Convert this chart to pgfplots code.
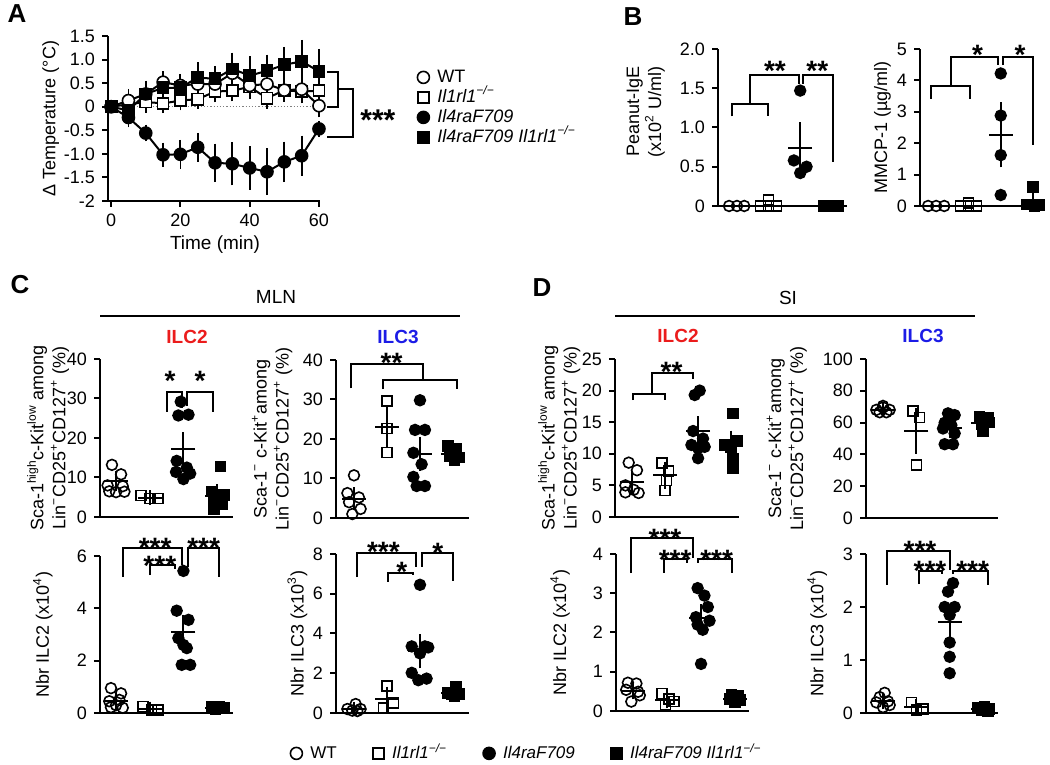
\documentclass[border=0pt]{standalone}
\usepackage{pgfplots}
\pgfplotsset{compat=1.18}
\usepackage{fontspec}
\setmainfont{Liberation Sans}
\definecolor{ilcred}{RGB}{235,28,28}
\definecolor{ilcblue}{RGB}{28,28,230}
\newcommand{\fs}[1]{\fontsize{#1}{#1}\selectfont}
\newcommand{\st}[1]{\raisebox{-0.42em}[0.3em][0pt]{#1}}
\pgfplotsset{
  gp/.style={
    scale only axis,
    axis x line*=bottom, axis y line*=left,
    axis line style={line width=1pt, black, -},
    tick style={line width=1pt, black},
    tick align=outside, major tick length=3pt,
    tick label style={font=\fs{9}},
    /pgf/number format/assume math mode=true,
    clip=false,
  },
  ylab/.style={every axis y label/.style={at={(axis description cs:#1,0.5)}, rotate=90, anchor=center, font=\fontsize{9}{11}\selectfont, align=center}},
  ylabxy/.style 2 args={every axis y label/.style={at={(axis description cs:#1,#2)}, rotate=90, anchor=center, font=\fontsize{9}{11}\selectfont, align=center}},
  cat/.style={gp, xtick=\empty, ymin=0},
  wt/.style={only marks, mark=o, mark size=2.7pt, line width=0.8pt, black},
  ko/.style={only marks, mark=square, mark size=2.5pt, line width=0.8pt, black},
  fz/.style={only marks, mark=*, mark size=2.7pt, line width=0.8pt, black},
  dk/.style={only marks, mark=square*, mark size=2.5pt, line width=0.8pt, black},
  ms/.style={only marks, black, mark=-, mark size=6pt, mark options={line width=1pt},
    error bars/y dir=both, error bars/y explicit, error bars/error mark=-,
    error bars/error mark options={black, mark size=3pt, line width=1pt},
    error bars/error bar style={black, line width=1pt}},
  aser/.style={black, line width=1pt, mark size=3pt,
    error bars/y dir=both, error bars/y explicit, error bars/error mark=-,
    error bars/error mark options={black, mark size=3pt, line width=0.9pt},
    error bars/error bar style={black, line width=0.9pt}},
}
\tikzset{
  brk/.style={line width=1pt, black},
  star/.style={font=\bfseries\fs{14}, inner sep=0pt, anchor=center},
  plab/.style={font=\bfseries\fs{13}},
}
\begin{document}
\begin{tikzpicture}
\useasboundingbox (0,0) rectangle (525pt,382.5pt);

% ---------------- Panel A ----------------
\begin{axis}[gp, at={(54pt,282pt)}, anchor=south west, width=106pt, height=82.5pt,
  xmin=-0.9, xmax=60.3, ymin=-2, ymax=1.5,
  xtick={0,20,40,60}, xticklabels={0,20,40,60},
  ytick={-2,-1.5,-1,-0.5,0,0.5,1,1.5},
  yticklabels={-2,-1.5,-1.0,-0.5,0,0.5,1.0,1.5},
  ylab=-0.27, ylabel={Δ Temperature (°C)},
  every axis x label/.style={at={(axis description cs:0.505,-0.267)}, anchor=center, font=\fs{9.5}},
  xlabel={Time (min)}]
\addplot[densely dotted, gray, line width=0.6pt] coordinates {(0,0) (60,0)};
\addplot[aser, mark=square*, mark options={solid, line width=0.8pt, fill=white}, mark size=2.8pt] table[y error=e] {
x y e
0 0 0
5 0.05 0.1
10 0.1 0.1
15 0.07 0.08
20 0.13 0.08
25 0.16 0.08
30 0.32 0.1
35 0.34 0.1
40 0.42 0.12
45 0.18 0.1
50 0.35 0.1
55 0.32 0.12
60 0.34 0.15
};
\addplot[aser, mark=*, mark options={solid, line width=0.8pt, fill=white}] table[y error=e] {
x y e
0 0 0
5 0.13 0.12
10 0.27 0.15
15 0.52 0.1
20 0.45 0.12
25 0.48 0.12
30 0.48 0.12
35 0.71 0.13
40 0.45 0.12
45 0.48 0.12
50 0.35 0.12
55 0.37 0.12
60 0.02 0.12
};
\addplot[aser, mark=square*, mark options={solid, line width=0.8pt, fill=black}, mark size=2.8pt] table[y error=e] {
x y e
0 0 0
5 -0.08 0.12
10 0.27 0.15
15 0.4 0.12
20 0.4 0.12
25 0.62 0.2
30 0.59 0.15
35 0.8 0.22
40 0.66 0.28
45 0.76 0.22
50 0.89 0.25
55 0.96 0.33
60 0.75 0.35
};
\addplot[aser, mark=*, mark options={solid, line width=0.8pt, fill=black}] table[y error=e] {
x y e
0 0 0
5 -0.23 0.08
10 -0.56 0.05
15 -1.02 0.13
20 -1.01 0.18
25 -0.86 0.18
30 -1.19 0.28
35 -1.21 0.33
40 -1.30 0.33
45 -1.38 0.37
50 -1.17 0.3
55 -1.04 0.3
60 -0.47 0.04
};
\draw[brk] (axis cs:62.3,0.74) -- (axis cs:65.5,0.74) -- (axis cs:65.5,0) -- (axis cs:62.3,0);
\draw[brk] (axis cs:65.5,0.37) -- (axis cs:69.8,0.37) -- (axis cs:69.8,-0.64) -- (axis cs:62.3,-0.64);
\node[star, font=\bfseries\fs{15}] at (axis cs:77,-0.15) {\st{***}};
\end{axis}

% legend A
\begin{axis}[hide axis, scale only axis, width=1pt, height=1pt, at={(208.5pt,348.5pt)}, anchor=north west,
  xmin=0, xmax=1, ymin=0, ymax=1, legend cell align=left,
  legend style={at={(0,1)}, anchor=north west, draw=none, fill=none, inner sep=0pt, font=\fs{9},
    nodes={inner sep=0pt, text height=7pt, text depth=2pt}, row sep=1pt,
    /tikz/every odd column/.append style={column sep=4pt}},
  legend image code/.code={\draw[#1] plot coordinates {(0pt,0pt)};}]
\addlegendimage{wt, mark size=3pt}\addlegendentry{WT}
\addlegendimage{ko, mark size=2.8pt}\addlegendentry{\textit{Il1rl1\textsuperscript{−/−}}}
\addlegendimage{fz, mark size=3pt}\addlegendentry{\textit{Il4raF709}}
\addlegendimage{dk, mark size=2.8pt}\addlegendentry{\textit{Il4raF709 Il1rl1\textsuperscript{−/−}}}
\end{axis}

% ---------------- Panel B1 ----------------
\begin{axis}[cat, at={(359pt,279.5pt)}, anchor=south west, width=64.5pt, height=78.5pt,
  xmin=0.4, xmax=4.48, ymax=2, ytick={0,0.5,1,1.5,2}, yticklabels={0,0.5,1.0,1.5,2.0},
  ylabxy={-0.56}{0.6}, ylabel={Peanut-IgE\\(x10\textsuperscript{2} U/ml)}]
\addplot[wt] coordinates {(0.75,0) (1,0) (1.23,0)};
\addplot[ko] coordinates {(1.75,0) (2,0.08) (2,0) (2.25,0)};
\addplot[fz] coordinates {(3,1.47) (2.8,0.58) (3.2,0.5) (3,0.42)};
\addplot[dk] coordinates {(3.75,0) (3.9,0) (4.05,0) (4.2,0)};
\addplot[ms] coordinates {(3,0.74) +- (0,0.25)};
\draw[brk] (axis cs:0.83,1.14) -- (axis cs:0.83,1.30) -- (axis cs:1.99,1.30) -- (axis cs:1.99,1.14);
\draw[brk] (axis cs:1.41,1.30) -- (axis cs:1.41,1.67) -- (axis cs:2.96,1.67) -- (axis cs:2.96,1.56);
\draw[brk] (axis cs:3.1,1.56) -- (axis cs:3.1,1.67) -- (axis cs:4.03,1.67) -- (axis cs:4.03,0.56);
\node[star] at (axis cs:2.2,1.8) {\st{**}};
\node[star] at (axis cs:3.54,1.8) {\st{**}};
\end{axis}

% ---------------- Panel B2 ----------------
\begin{axis}[cat, at={(460pt,279.5pt)}, anchor=south west, width=62.5pt, height=78.5pt,
  xmin=0.5, xmax=4.37, ymax=5, ytick={0,1,2,3,4,5},
  ylab=-0.3, ylabel={MMCP-1 (µg/ml)}]
\addplot[wt] coordinates {(0.75,0) (1,0) (1.25,0)};
\addplot[ko] coordinates {(1.75,0) (2,0.1) (2,0) (2.25,0)};
\addplot[fz] coordinates {(3,4.22) (3,2.88) (3,1.62) (3,0.35)};
\addplot[dk] coordinates {(4,0.6) (3.8,0.05) (4.2,0.02) (4.05,0)};
\addplot[ms] coordinates {(3,2.27) +- (0,0.85) (4,0.19) +- (0,0.19)};
\draw[brk] (axis cs:0.85,3.41) -- (axis cs:0.85,3.82) -- (axis cs:2.05,3.82) -- (axis cs:2.05,3.41);
\draw[brk] (axis cs:1.45,3.82) -- (axis cs:1.45,4.75) -- (axis cs:2.93,4.75) -- (axis cs:2.93,4.49);
\draw[brk] (axis cs:3.08,4.49) -- (axis cs:3.08,4.75) -- (axis cs:4.01,4.75) -- (axis cs:4.01,1.94);
\node[star] at (axis cs:2.28,5.0) {\st{*}};
\node[star] at (axis cs:3.6,5.0) {\st{*}};
\end{axis}

% ---------------- Panel C1 ----------------
\begin{axis}[cat, at={(50pt,124pt)}, anchor=south west, width=66.5pt, height=79pt,
  xmin=0.525, xmax=4.47, ymax=40, ytick={0,10,20,30,40},
  ylab=-0.39, ylabel={Sca-1\textsuperscript{high}c-Kit\textsuperscript{low} among\\Lin\textsuperscript{−}CD25\textsuperscript{+}CD127\textsuperscript{+} (\%)}]
\addplot[wt] coordinates {(0.88,13.2) (1.15,10.8) (0.75,8.0) (1.2,7.8) (0.8,6.5) (1.0,6.3) (1.25,6.4)};
\addplot[ko] coordinates {(1.75,5.4) (2,4.7) (2.25,4.7)};
\addplot[fz] coordinates {(2.92,29.2) (2.85,25.7) (3.15,25.9) (2.8,14.2) (3.1,12.5) (2.78,11.4) (3.2,11.0) (3.0,9.6)};
\addplot[dk] coordinates {(4.1,12.8) (3.85,6.5) (4.2,5.5) (3.9,4.8) (4.15,3.3) (3.9,2.0)};
\addplot[ms] coordinates {(1,9.2) +- (0,1.0) (2,4.9) +- (0,0.3) (3,17.1) +- (0,2.8) (4,5.2) +- (0,1.6)};
\draw[brk] (axis cs:2.5,26.7) -- (axis cs:2.5,31.7) -- (axis cs:2.95,31.7) -- (axis cs:2.95,27.5);
\draw[brk] (axis cs:3.1,28.2) -- (axis cs:3.1,31.7) -- (axis cs:3.89,31.7) -- (axis cs:3.89,26.7);
\node[star] at (axis cs:2.6,36.0) {\st{*}};
\node[star] at (axis cs:3.49,36.0) {\st{*}};
\end{axis}

% ---------------- Panel C2 ----------------
\begin{axis}[cat, at={(168pt,123.5pt)}, anchor=south west, width=66.5pt, height=79pt,
  xmin=0.455, xmax=4.485, ymax=40, ytick={0,10,20,30,40},
  ylab=-0.48, ylabel={Sca-1\textsuperscript{−} c-Kit\textsuperscript{+}among\\Lin\textsuperscript{−}CD25\textsuperscript{+}CD127\textsuperscript{+} (\%)}]
\addplot[wt] coordinates {(1.0,10.8) (0.8,6.3) (1.15,5.2) (0.85,4.0) (1.2,2.3) (0.95,1.0)};
\addplot[ko] coordinates {(2,29.6) (2,22.7) (2,16.6)};
\addplot[fz] coordinates {(3.0,29.8) (2.85,22.3) (3.15,22.3) (2.8,16.5) (3.05,13.6) (2.8,10.4) (2.9,8.1) (3.15,8.1)};
\addplot[dk] coordinates {(3.85,18.2) (4.1,17.6) (3.9,15.6) (4.2,15.3) (4.05,14.6)};
\addplot[ms] coordinates {(1,4.9) +- (0,1.4) (2,23.0) +- (0,3.8) (3,16.3) +- (0,2.8) (4,16.2) +- (0,0.9)};
\draw[brk] (axis cs:0.9,32.8) -- (axis cs:0.9,39.0) -- (axis cs:3.1,39.0) -- (axis cs:3.1,34.9);
\draw[brk] (axis cs:1.89,32.6) -- (axis cs:1.89,34.9) -- (axis cs:4.11,34.9) -- (axis cs:4.11,32.6);
\node[star] at (axis cs:2.14,40.9) {\st{**}};
\end{axis}

% ---------------- Panel C3 ----------------
\begin{axis}[cat, at={(50pt,26pt)}, anchor=south west, width=66.5pt, height=78.5pt,
  xmin=0.525, xmax=4.47, ymax=6, ytick={0,2,4,6},
  ylab=-0.43, ylabel={Nbr ILC2 (x10\textsuperscript{4})}]
\addplot[wt] coordinates {(0.85,0.95) (1.15,0.75) (0.8,0.45) (1.1,0.5) (0.85,0.22) (1.2,0.2) (1.0,0.3)};
\addplot[ko] coordinates {(1.8,0.25) (2.05,0.12) (2.25,0.12)};
\addplot[fz] coordinates {(3.0,5.43) (2.8,3.91) (3.15,3.56) (2.85,2.86) (3.0,2.6) (3.1,2.48) (2.95,1.84) (3.2,1.84)};
\addplot[dk] coordinates {(3.85,0.22) (4.1,0.2) (4.2,0.18) (3.95,0.15) (4.05,0.22)};
\addplot[ms] coordinates {(1,0.44) +- (0,0.1) (2,0.16) +- (0,0.05) (3,3.11) +- (0,0.42) (4,0.19) +- (0,0.02)};
\draw[brk] (axis cs:1.22,5.2) -- (axis cs:1.22,6.31) -- (axis cs:2.95,6.31) -- (axis cs:2.95,5.65);
\draw[brk] (axis cs:2.01,5.27) -- (axis cs:2.01,5.65) -- (axis cs:2.75,5.65) -- (axis cs:2.75,5.52);
\draw[brk] (axis cs:3.15,5.59) -- (axis cs:3.15,6.31) -- (axis cs:4.04,6.31) -- (axis cs:4.04,5.2);
\node[star] at (axis cs:2.16,6.55) {\st{***}};
\node[star] at (axis cs:2.3,5.88) {\st{***}};
\node[star] at (axis cs:3.6,6.55) {\st{***}};
\end{axis}

% ---------------- Panel C4 ----------------
\begin{axis}[cat, at={(168pt,26pt)}, anchor=south west, width=66.5pt, height=79.5pt,
  xmin=0.455, xmax=4.485, ymax=8, ytick={0,2,4,6,8},
  ylab=-0.29, ylabel={Nbr ILC3 (x10\textsuperscript{3})}]
\addplot[wt] coordinates {(0.8,0.2) (1.05,0.45) (1.2,0.2) (0.95,0.12) (1.1,0.1)};
\addplot[ko] coordinates {(2.0,1.36) (1.9,0.25) (2.2,0.5)};
\addplot[fz] coordinates {(3.0,6.45) (2.75,3.35) (3.15,3.35) (3.25,3.3) (3.0,3.0) (2.75,2.02) (2.95,1.65) (3.2,1.73)};
\addplot[dk] coordinates {(3.85,1.0) (4.1,1.3) (4.2,0.95) (4.05,0.85) (3.95,0.95)};
\addplot[ms] coordinates {(1,0.2) +- (0,0.07) (2,0.7) +- (0,0.33) (3,3.1) +- (0,0.55) (4,0.99) +- (0,0.1)};
\draw[brk] (axis cs:1.1,6.83) -- (axis cs:1.1,8.03) -- (axis cs:2.88,8.03) -- (axis cs:2.88,7.36);
\draw[brk] (axis cs:2.02,6.61) -- (axis cs:2.02,7.06) -- (axis cs:2.8,7.06) -- (axis cs:2.8,6.94);
\draw[brk] (axis cs:3.07,7.36) -- (axis cs:3.07,8.03) -- (axis cs:4.01,8.03) -- (axis cs:4.01,6.64);
\node[star] at (axis cs:1.89,8.4) {\st{***}};
\node[star] at (axis cs:2.45,7.4) {\st{*}};
\node[star] at (axis cs:3.54,8.35) {\st{*}};
\end{axis}

% ---------------- Panel D1 ----------------
\begin{axis}[cat, at={(307.5pt,124pt)}, anchor=south west, width=62pt, height=79pt,
  xmin=0.485, xmax=4.24, ymax=25, ytick={0,5,10,15,20,25},
  ylab=-0.45, ylabel={Sca-1\textsuperscript{high}c-Kit\textsuperscript{low} among\\Lin\textsuperscript{−}CD25\textsuperscript{+}CD127\textsuperscript{+} (\%)}]
\addplot[wt] coordinates {(0.9,8.6) (1.15,7.4) (0.8,5.0) (1.05,4.3) (0.8,3.9) (1.2,3.8)};
\addplot[ko] coordinates {(1.9,8.5) (2.1,7.3) (2.05,5.8) (2.0,4.2)};
\addplot[fz] coordinates {(3.05,20.0) (2.9,19.3) (2.85,13.6) (3.15,12.4) (2.8,11.4) (3.2,11.1) (3.0,10.9) (3.0,9.3)};
\addplot[dk] coordinates {(4.05,16.4) (3.8,11.4) (4.2,12.0) (4.0,11.0) (4.05,9.2) (4.05,7.7)};
\addplot[ms] coordinates {(1,5.5) +- (0,0.9) (2,6.6) +- (0,1.2) (3,13.6) +- (0,1.4) (4,11.4) +- (0,1.3)};
\draw[brk] (axis cs:1.04,18.5) -- (axis cs:1.04,19.4) -- (axis cs:2.0,19.4) -- (axis cs:2.0,18.5);
\draw[brk] (axis cs:1.6,19.4) -- (axis cs:1.6,22.8) -- (axis cs:2.84,22.8) -- (axis cs:2.84,21.8);
\node[star] at (axis cs:2.2,24.0) {\st{**}};
\end{axis}

% ---------------- Panel D2 ----------------
\begin{axis}[cat, at={(433pt,123.5pt)}, anchor=south west, width=66pt, height=79.5pt,
  xmin=0.49, xmax=4.45, ymax=100, ytick={0,20,40,60,80,100},
  ylab=-0.6, ylabel={Sca-1\textsuperscript{−} c-Kit\textsuperscript{+}among\\Lin\textsuperscript{−}CD25\textsuperscript{+}CD127\textsuperscript{+} (\%)}]
\addplot[wt] coordinates {(0.8,68) (1.0,69.5) (1.2,68) (0.9,66.5) (1.1,66.5) (1.0,70.5)};
\addplot[ko] coordinates {(1.9,67.4) (2.1,63.2) (2.0,33.2)};
\addplot[fz] coordinates {(2.95,65.8) (3.15,64.7) (2.85,59.9) (3.05,58.4) (2.8,56.3) (3.15,53.2) (2.85,46.4) (3.1,46.4)};
\addplot[dk] coordinates {(3.9,63.5) (4.15,63.0) (4.2,60) (3.95,59) (4.0,54.5)};
\addplot[ms] coordinates {(1,68) +- (0,0.7) (2,54.6) +- (0,10.5) (3,56.4) +- (0,2.6) (4,60) +- (0,1.7)};
\end{axis}

% ---------------- Panel D3 ----------------
\begin{axis}[cat, at={(308pt,27pt)}, anchor=south west, width=66.5pt, height=78.5pt,
  xmin=0.5, xmax=4.41, ymax=4, ytick={0,1,2,3,4},
  ylab=-0.42, ylabel={Nbr ILC2 (x10\textsuperscript{4})}]
\addplot[wt] coordinates {(0.85,0.72) (1.1,0.7) (0.8,0.54) (1.15,0.49) (1.2,0.4) (0.95,0.24)};
\addplot[ko] coordinates {(1.85,0.45) (2.05,0.3) (1.95,0.15) (2.2,0.24)};
\addplot[fz] coordinates {(2.9,3.13) (3.1,2.94) (3.2,2.65) (2.85,2.39) (3.25,2.3) (2.9,2.2) (3.05,2.07) (3.0,1.2)};
\addplot[dk] coordinates {(3.9,0.4) (4.1,0.38) (3.85,0.3) (4.15,0.28) (4.0,0.22) (4.05,0.32)};
\addplot[ms] coordinates {(1,0.52) +- (0,0.07) (2,0.28) +- (0,0.06) (3,2.37) +- (0,0.2) (4,0.31) +- (0,0.03)};
\draw[brk] (axis cs:0.94,3.51) -- (axis cs:0.94,4.4) -- (axis cs:2.77,4.4) -- (axis cs:2.77,3.89);
\draw[brk] (axis cs:1.91,3.52) -- (axis cs:1.91,3.86) -- (axis cs:2.58,3.86) -- (axis cs:2.58,3.78);
\draw[brk] (axis cs:2.92,3.78) -- (axis cs:2.92,3.86) -- (axis cs:3.9,3.86) -- (axis cs:3.9,3.52);
\node[star] at (axis cs:1.94,4.54) {\st{***}};
\node[star] at (axis cs:2.24,4.02) {\st{***}};
\node[star] at (axis cs:3.46,4.02) {\st{***}};
\end{axis}

% ---------------- Panel D4 ----------------
\begin{axis}[cat, at={(433pt,26pt)}, anchor=south west, width=66pt, height=79.5pt,
  xmin=0.49, xmax=4.45, ymax=3, ytick={0,1,2,3},
  ylab=-0.37, ylabel={Nbr ILC3 (x10\textsuperscript{4})}]
\addplot[wt] coordinates {(1.05,0.38) (0.9,0.3) (1.15,0.22) (0.8,0.2) (1.2,0.15) (1.0,0.11)};
\addplot[ko] coordinates {(1.85,0.2) (2.0,0.06) (2.2,0.08)};
\addplot[fz] coordinates {(3.1,2.45) (2.95,2.29) (2.85,2.0) (3.15,2.0) (3.0,1.85) (3.0,1.33) (3.0,1.06) (3.0,0.75)};
\addplot[dk] coordinates {(3.85,0.1) (4.05,0.12) (4.2,0.07) (3.95,0.05) (4.15,0.04) (4.0,0.08)};
\addplot[ms] coordinates {(1,0.22) +- (0,0.04) (2,0.11) +- (0,0.04) (3,1.72) +- (0,0.2) (4,0.08) +- (0,0.01)};
\draw[brk] (axis cs:1.11,2.42) -- (axis cs:1.11,3.06) -- (axis cs:3.01,3.06) -- (axis cs:3.01,2.7);
\draw[brk] (axis cs:2.09,2.43) -- (axis cs:2.09,2.68) -- (axis cs:2.76,2.68) -- (axis cs:2.76,2.62);
\draw[brk] (axis cs:3.09,2.62) -- (axis cs:3.09,2.68) -- (axis cs:4.16,2.68) -- (axis cs:4.16,2.42);
\node[star] at (axis cs:2.11,3.17) {\st{***}};
\node[star] at (axis cs:2.41,2.8) {\st{***}};
\node[star] at (axis cs:3.69,2.8) {\st{***}};
\end{axis}

% bottom legend
\begin{axis}[hide axis, scale only axis, width=1pt, height=1pt, at={(145pt,10.5pt)}, anchor=north west,
  xmin=0, xmax=1, ymin=0, ymax=1, legend columns=4, legend cell align=left,
  legend style={at={(0,1)}, anchor=north west, draw=none, fill=none, inner sep=0pt, font=\fs{8.5},
    nodes={inner sep=0pt, text height=7pt, text depth=2pt},
    /tikz/every odd column/.append style={column sep=4pt},
    /tikz/every even column/.append style={column sep=18pt}},
  legend image code/.code={\draw[#1] plot coordinates {(0pt,0pt)};}]
\addlegendimage{wt, mark size=3pt}\addlegendentry{WT}
\addlegendimage{ko, mark size=2.8pt}\addlegendentry{\textit{Il1rl1\textsuperscript{−/−}}}
\addlegendimage{fz, mark size=3pt}\addlegendentry{\textit{Il4raF709}}
\addlegendimage{dk, mark size=2.8pt}\addlegendentry{\textit{Il4raF709 Il1rl1\textsuperscript{−/−}}}
\end{axis}

% panel titles and headers
\node[plab] at (8.5pt,375.5pt) {A};
\node[plab] at (316.5pt,374pt) {B};
\node[plab] at (10pt,240pt) {C};
\node[plab] at (271pt,238.5pt) {D};
\node[font=\fs{9.5}] at (138pt,234pt) {MLN};
\draw[line width=1pt] (50pt,224.5pt) -- (230pt,224.5pt);
\node[font=\fs{9.5}] at (394pt,233.5pt) {SI};
\draw[line width=1pt] (307.5pt,224.5pt) -- (487.5pt,224.5pt);
\node[font=\bfseries\fs{9.5}, text=ilcred] at (93.5pt,214pt) {ILC2};
\node[font=\bfseries\fs{9.5}, text=ilcblue] at (199pt,214pt) {ILC3};
\node[font=\bfseries\fs{9.5}, text=ilcred] at (339pt,214.5pt) {ILC2};
\node[font=\bfseries\fs{9.5}, text=ilcblue] at (461.5pt,214.5pt) {ILC3};
\end{tikzpicture}
\end{document}
